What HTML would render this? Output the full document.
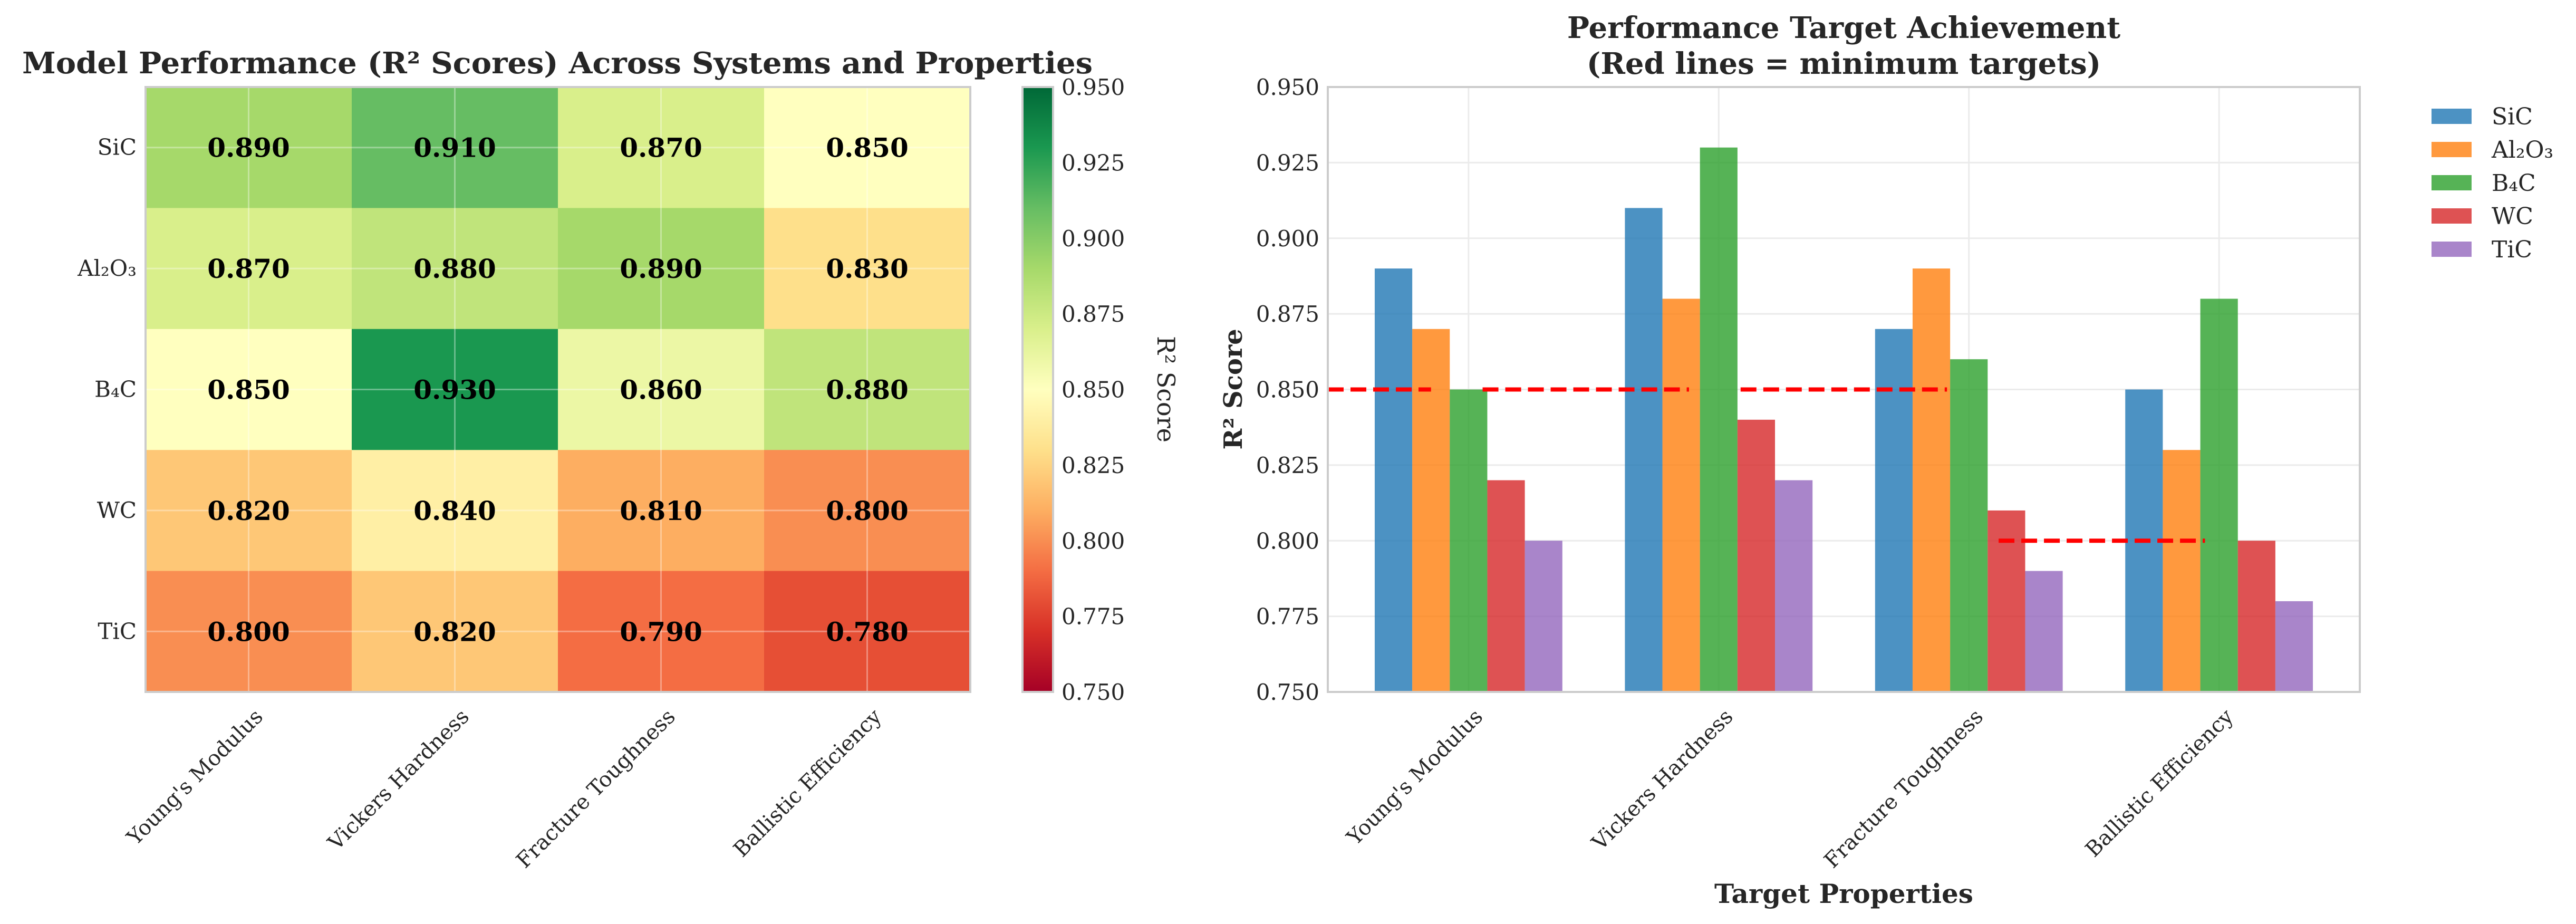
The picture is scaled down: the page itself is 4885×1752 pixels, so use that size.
<!DOCTYPE html>
<html><head><meta charset="utf-8"><style>
html,body{margin:0;padding:0;background:#fff;}
svg{display:block;font-family:"DejaVu Serif","Liberation Serif",serif;}
</style></head><body>
<svg id="fig" width="4885" height="1752" viewBox="0 0 4885 1752" xmlns="http://www.w3.org/2000/svg">
<g id="heat"></g>
<g id="bars"></g>
</svg>
<script>
const properties = ["Young's Modulus","Vickers Hardness","Fracture Toughness","Ballistic Efficiency"];
const systems = ["SiC","Al₂O₃","B₄C","WC","TiC"];
const sicScores = [0.89,0.91,0.87,0.85];
const al2o3Scores = [0.87,0.88,0.89,0.83];
const b4cScores = [0.85,0.93,0.86,0.88];
const wcScores = [0.82,0.84,0.81,0.80];
const ticScores = [0.80,0.82,0.79,0.78];
const targets = [0.85,0.85,0.85,0.80];
const yTicks = [0.750,0.775,0.800,0.825,0.850,0.875,0.900,0.925,0.950];
const seriesColors = ["#1f77b4","#ff7f0e","#2ca02c","#d62728","#9467bd"];
const allScores = [sicScores,al2o3Scores,b4cScores,wcScores,ticScores];

const NS="http://www.w3.org/2000/svg";
function mk(tag,attrs,parent,text){const e=document.createElementNS(NS,tag);for(const k in attrs)e.setAttribute(k,attrs[k]);if(text!==undefined)e.textContent=text;parent.appendChild(e);return e;}
const stops=["#a50026","#d73027","#f46d43","#fdae61","#fee08b","#ffffbf","#d9ef8b","#a6d96a","#66bd63","#1a9850","#006837"];
function hex(h){return [1,3,5].map(i=>parseInt(h.substr(i,2),16));}
function cmap(v){let t=(v-0.75)/0.2;t=Math.max(0,Math.min(1,t));const p=t*10;const i=Math.min(9,Math.floor(p));const f=p-i;const a=hex(stops[i]),b=hex(stops[i+1]);return "rgb("+a.map((x,k)=>Math.round(x+(b[k]-x)*f)).join(",")+")";}

// ---------- Heatmap ----------
const H=document.getElementById('heat');
const hx0=276,hx1=1840,hy0=165,hy1=1312;
const cw=(hx1-hx0)/properties.length, ch=(hy1-hy0)/systems.length;
const hxScale=i=>hx0+cw*(i+0.5), hyScale=r=>hy0+ch*(r+0.5);
let t=mk('text',{x:1057,y:139,'text-anchor':'middle','font-size':56,'font-weight':'bold',fill:'#262626',textLength:2030,lengthAdjust:'spacingAndGlyphs'},H,"Model Performance (R² Scores) Across Systems and Properties");

allScores.forEach((row,r)=>{row.forEach((v,c)=>{
  const rc=mk('rect',{x:hx0+cw*c,y:hy0+ch*r,width:cw+0.5,height:ch+0.5,fill:cmap(v)},H);
  
  
});});
properties.forEach((p,i)=>{mk('line',{x1:hxScale(i),x2:hxScale(i),y1:hy0,y2:hy1,stroke:'rgba(255,255,255,0.35)','stroke-width':3},H);});
systems.forEach((s,r)=>{mk('line',{x1:hx0,x2:hx1,y1:hyScale(r),y2:hyScale(r),stroke:'rgba(255,255,255,0.35)','stroke-width':3},H);});
allScores.forEach((row,r)=>{row.forEach((v,c)=>{
  const tx=mk('text',{x:hxScale(c),y:hyScale(r)+18,'text-anchor':'middle','font-size':50,'font-weight':'bold',fill:'#000'},H,v.toFixed(3));
  
  
});});
mk('rect',{x:hx0,y:hy0,width:hx1-hx0,height:hy1-hy0,fill:'none',stroke:'#cccccc','stroke-width':4},H);
systems.forEach((s,r)=>{const tx=mk('text',{x:259,y:hyScale(r)+14,'text-anchor':'end','font-size':42,fill:'#262626'},H,s);
  
  });
properties.forEach((p,i)=>{const tx=mk('text',{transform:`translate(${hxScale(i)+8},1340) rotate(-45)`,'text-anchor':'end','font-size':40,dy:'0.75em',fill:'#262626'},H,p);
  
  });
// colorbar
const defs=mk('defs',{},H);const lg=mk('linearGradient',{id:'cb',x1:0,y1:1,x2:0,y2:0},defs);
stops.forEach((c,i)=>mk('stop',{offset:(i*10)+'%','stop-color':c},lg));
const cbx0=1939,cbx1=1997;
const cb=mk('rect',{x:cbx0,y:hy0,width:cbx1-cbx0,height:hy1-hy0,fill:'url(#cb)',stroke:'#cccccc','stroke-width':4},H);

const cbY=v=>hy1-(v-0.75)/0.2*(hy1-hy0);
yTicks.forEach(v=>{const tx=mk('text',{x:2013,y:cbY(v)+15,'font-size':42,fill:'#262626'},H,v.toFixed(3));
  
  });
t=mk('text',{transform:'translate(2195,738) rotate(90)','text-anchor':'middle','font-size':46,fill:'#262626'},H,"R² Score");


// ---------- Bar chart ----------
const B=document.getElementById('bars');
const bx0=2518,bx1=4475,by0=165,by1=1312;
const bxc=(bx0+bx1)/2;
const xS=d=>bx0+(d+0.5625)/4.125*(bx1-bx0);
const yS=v=>by1-(v-0.75)/0.2*(by1-by0);
yTicks.forEach(v=>{mk('line',{x1:bx0,x2:bx1,y1:yS(v),y2:yS(v),stroke:'#ebebeb','stroke-width':3},B);});
properties.forEach((p,i)=>{mk('line',{x1:xS(i),x2:xS(i),y1:by0,y2:by1,stroke:'#ebebeb','stroke-width':3},B);});
allScores.forEach((ser,s)=>{ser.forEach((v,i)=>{
  const x=xS(i+(s-2)*0.15-0.075);
  const r=mk('rect',{x:x,y:yS(v),width:xS(0.15)-xS(0),height:by1-yS(v),fill:seriesColors[s],'fill-opacity':0.8},B);
  
  
});});
targets.forEach((v,i)=>{
  const f0=Math.max(0,i/targets.length-0.1), f1=i/targets.length+0.1;
  const l=mk('line',{x1:bx0+f0*(bx1-bx0),x2:bx0+f1*(bx1-bx0),y1:yS(v),y2:yS(v),stroke:'#ff0000','stroke-width':8,'stroke-dasharray':'30 13'},B);
  
  
});
mk('rect',{x:bx0,y:by0,width:bx1-bx0,height:by1-by0,fill:'none',stroke:'#cccccc','stroke-width':4},B);
yTicks.forEach(v=>{const tx=mk('text',{x:2502,y:yS(v)+15,'text-anchor':'end','font-size':42,fill:'#262626'},B,v.toFixed(3));
  
  });
properties.forEach((p,i)=>{const tx=mk('text',{transform:`translate(${xS(i)+8},1340) rotate(-45)`,'text-anchor':'end','font-size':40,dy:'0.75em',fill:'#262626'},B,p);
  
  });
t=mk('text',{x:bxc,y:72,'text-anchor':'middle','font-size':56,'font-weight':'bold',fill:'#262626'},B,"Performance Target Achievement");

t=mk('text',{x:bxc,y:140,'text-anchor':'middle','font-size':56,'font-weight':'bold',fill:'#262626'},B,"(Red lines = minimum targets)");

t=mk('text',{transform:'translate(2355,738) rotate(-90)','text-anchor':'middle','font-size':48,'font-weight':'bold',fill:'#262626'},B,"R² Score");

t=mk('text',{x:bxc,y:1712,'text-anchor':'middle','font-size':50,'font-weight':'bold',fill:'#262626'},B,"Target Properties");

systems.forEach((s,k)=>{
  const cy=221+k*63;
  const r=mk('rect',{x:4611,y:cy-15,width:76,height:29,fill:seriesColors[k],'fill-opacity':0.8},B);
  
  
  const tx=mk('text',{x:4725,y:cy+15,'font-size':44,fill:'#262626'},B,s);
  
  
});
</script>
</body></html>
